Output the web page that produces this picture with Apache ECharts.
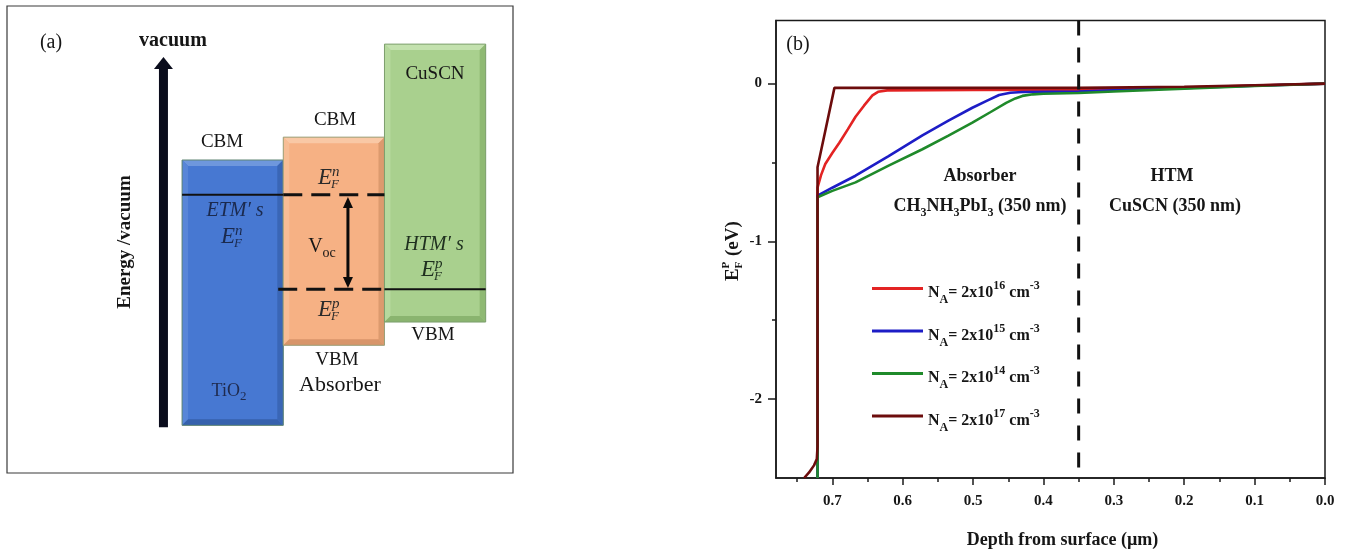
<!DOCTYPE html>
<html>
<head>
<meta charset="utf-8">
<title>Band diagram and hole quasi-Fermi level</title>
<script src="https://cdn.jsdelivr.net/npm/echarts@6.0.0/dist/echarts.min.js"></script>
<style>
  html, body { margin: 0; padding: 0; background: #fff; }
  #chart { width: 1349px; height: 554px; }
</style>
</head>
<body>
<div id="chart"></div>
<script>
// (a) schematic band levels (arbitrary energy units, 0 = TiO2 VBM)
const layers = ['TiO2', 'Absorber', 'CuSCN'];
const cbmLevels = [6.96, 7.56, 10.0];
const vbmLevels = [0, 2.1, 2.71];
const efnLevel = 6.05;
const efpLevel = 3.57;
const vacuumArrow = [[-0.184, -0.05, 9.66]];
const vocArrow = [[1.639, 3.6, 5.99]];

// (b) E_F^p (eV) vs depth from surface (um)
const depthTicks = [0, 0.1, 0.2, 0.3, 0.4, 0.5, 0.6, 0.7];
const depthMinorTicks = [0.05, 0.15, 0.25, 0.35, 0.45, 0.55, 0.65, 0.75];
const energyTicks = [-2, -1, 0];
const energyMinorTicks = [-1.5, -0.5];
const dopingExponents = ['16', '15', '14', '17'];
const interfaceDepth = 0.35;

const efNA16 = [[0.721, -2.5], [0.721, -0.66], [0.716, -0.58], [0.71, -0.51], [0.70, -0.44],
  [0.69, -0.375], [0.678, -0.29], [0.667, -0.21], [0.655, -0.14], [0.643, -0.075],
  [0.635, -0.052], [0.622, -0.043], [0.5, -0.04], [0.35, -0.038], [0.2, -0.025],
  [0.1, -0.012], [0, 0]];
const efNA15 = [[0.721, -2.5], [0.721, -0.71], [0.70, -0.66], [0.667, -0.584], [0.62, -0.46],
  [0.572, -0.328], [0.535, -0.235], [0.501, -0.153], [0.48, -0.108], [0.463, -0.072],
  [0.447, -0.058], [0.43, -0.053], [0.35, -0.05], [0.25, -0.035], [0.1, -0.014], [0, 0]];
const efNA14 = [[0.721, -2.5], [0.721, -0.72], [0.70, -0.68], [0.667, -0.626], [0.62, -0.52],
  [0.572, -0.416], [0.535, -0.33], [0.501, -0.248], [0.475, -0.18], [0.453, -0.122],
  [0.44, -0.094], [0.43, -0.078], [0.415, -0.068], [0.40, -0.064], [0.35, -0.06],
  [0.3, -0.05], [0.2, -0.032], [0.1, -0.015], [0, 0]];
const efNA17 = [[0.74, -2.5], [0.733, -2.465], [0.726, -2.42], [0.722, -2.38], [0.721, -2.3],
  [0.721, -0.53], [0.71, -0.3], [0.697, -0.027], [0.6, -0.027], [0.5, -0.027],
  [0.35, -0.027], [0.2, -0.02], [0.1, -0.01], [0, 0]];

const serif = '"Liberation Serif", "Times New Roman", serif';
const ink = '#161616';
const lineColors = ['#e32323', '#1d1dc6', '#1f8a2a', '#6c0c0c'];
const blockColors = [
  { main: '#4778d2', top: '#6e97dd', left: '#5886d8', right: '#3a66b6', bottom: '#3661ad', edge: '#5f8572' },
  { main: '#f6b184', top: '#f9c8a5', left: '#f7bd95', right: '#dc9a6e', bottom: '#d8956a', edge: '#9aa07a' },
  { main: '#a9d08e', top: '#c3e1ae', left: '#b6d99e', right: '#8fb973', bottom: '#8ab46f', edge: '#7d9f6e' }
];

function renderBlock(params, api) {
  const i = api.value(0);
  const p0 = api.coord([i, api.value(1)]);
  const p1 = api.coord([i + 1, api.value(2)]);
  const x0 = p0[0], y0 = p0[1], x1 = p1[0], y1 = p1[1], b = 6;
  const c = blockColors[params.dataIndex];
  return {
    type: 'group',
    children: [
      { type: 'rect', shape: { x: x0, y: y0, width: x1 - x0, height: y1 - y0 }, style: { fill: c.main } },
      { type: 'polygon', shape: { points: [[x0, y0], [x1, y0], [x1 - b, y0 + b], [x0 + b, y0 + b]] }, style: { fill: c.top } },
      { type: 'polygon', shape: { points: [[x0, y0], [x0 + b, y0 + b], [x0 + b, y1 - b], [x0, y1]] }, style: { fill: c.left } },
      { type: 'polygon', shape: { points: [[x1, y0], [x1, y1], [x1 - b, y1 - b], [x1 - b, y0 + b]] }, style: { fill: c.right } },
      { type: 'polygon', shape: { points: [[x0, y1], [x0 + b, y1 - b], [x1 - b, y1 - b], [x1, y1]] }, style: { fill: c.bottom } },
      { type: 'rect', shape: { x: x0, y: y0, width: x1 - x0, height: y1 - y0 }, style: { fill: 'none', stroke: c.edge, lineWidth: 1 } }
    ]
  };
}

// vertical arrow, value(1) = lower end, value(2) = upper end
function arrowRenderer(o) {
  return function (params, api) {
    const lo = api.coord([api.value(0), api.value(1)]);
    const hi = api.coord([api.value(0), api.value(2)]);
    const cx = lo[0], yb = lo[1], yt = hi[1];
    const children = [];
    const sTop = yt + o.headLen - 1;
    const sBot = o.both ? yb - o.headLen + 1 : yb;
    children.push({ type: 'rect', shape: { x: cx - o.shaft / 2, y: sTop, width: o.shaft, height: sBot - sTop }, style: { fill: o.color } });
    children.push({ type: 'polygon', shape: { points: [[cx, yt], [cx - o.headWidth / 2, yt + o.headLen], [cx + o.headWidth / 2, yt + o.headLen]] }, style: { fill: o.color } });
    if (o.both) {
      children.push({ type: 'polygon', shape: { points: [[cx, yb], [cx - o.headWidth / 2, yb - o.headLen], [cx + o.headWidth / 2, yb - o.headLen]] }, style: { fill: o.color } });
    }
    return { type: 'group', children };
  };
}

function label(x, y, text, size, extra) {
  return {
    type: 'text', x: x, y: y, z: 100, silent: true,
    style: Object.assign({ text: text, fontFamily: serif, fontSize: size, fill: ink, align: 'center', verticalAlign: 'middle' }, extra || {})
  };
}

// E with stacked super/subscript, as in E_F^n
function fermiLabel(x, y, sup, fill) {
  const base = { fontFamily: serif, fontStyle: 'italic', fill: fill, verticalAlign: 'middle' };
  return {
    type: 'group', x: x, y: y, silent: true,
    children: [
      { type: 'text', x: 0, y: 0, z: 100, style: Object.assign({ text: 'E', fontSize: 23, align: 'right' }, base) },
      { type: 'text', x: 0, y: -6, z: 100, style: Object.assign({ text: sup, fontSize: 15, align: 'left' }, base) },
      { type: 'text', x: -1, y: 7, z: 100, style: Object.assign({ text: 'F', fontSize: 13, align: 'left' }, base) }
    ]
  };
}

const subRich = { sub: { fontFamily: serif, fontSize: 14, lineHeight: 10, verticalAlign: 'bottom', fill: ink } };
const boldSubRich = { s: { fontFamily: serif, fontWeight: 'bold', fontSize: 12, lineHeight: 10, verticalAlign: 'bottom', fill: ink } };

const chart = echarts.init(document.getElementById('chart'));

const curveSeries = [efNA16, efNA15, efNA14, efNA17].map(function (data, k) {
  return {
    name: dopingExponents[k],
    type: 'line',
    xAxisIndex: 0,
    yAxisIndex: 0,
    data: data,
    symbol: 'none',
    showSymbol: false,
    z: 3,
    lineStyle: { color: lineColors[k], width: 2.6 },
    itemStyle: { color: lineColors[k] }
  };
});

function fermiLine(data, dashed) {
  return {
    type: 'line',
    xAxisIndex: 2,
    yAxisIndex: 2,
    data: data,
    symbol: 'none',
    silent: true,
    z: 5,
    lineStyle: { color: '#111', width: dashed ? 3 : 2, type: dashed ? [19, 9] : 'solid' }
  };
}

const option = {
  animation: false,
  backgroundColor: '#fff',
  grid: [
    { left: 776, top: 20.5, right: 24, bottom: 72.5, show: true, borderColor: '#1a1a1a', borderWidth: 1.5 },
    { left: 7, top: 6, width: 506, height: 467, show: true, borderColor: '#3a3a3a', borderWidth: 1.2 }
  ],
  legend: {
    data: dopingExponents,
    orient: 'vertical',
    left: 872,
    top: 271,
    padding: 0,
    itemWidth: 51,
    itemHeight: 3,
    itemGap: 7.5,
    icon: 'rect',
    selectedMode: false,
    formatter: function (name) {
      return 'N{sub|A}= 2x10{sup|' + name + '} cm{sup|-3}';
    },
    textStyle: {
      fontFamily: serif, fontWeight: 'bold', fontSize: 16, color: ink, lineHeight: 26, padding: [9, 0, 0, 0],
      rich: {
        sub: { fontFamily: serif, fontWeight: 'bold', fontSize: 12, lineHeight: 12, verticalAlign: 'bottom', color: ink },
        sup: { fontFamily: serif, fontWeight: 'bold', fontSize: 12, lineHeight: 12, verticalAlign: 'top', color: ink }
      }
    }
  },
  xAxis: [
    {
      gridIndex: 0, type: 'value', inverse: true, min: 0, max: 0.78,
      name: 'Depth from surface (\u00b5m)', nameLocation: 'middle', nameGap: 53,
      nameTextStyle: { fontFamily: serif, fontWeight: 'bold', fontSize: 18, color: ink, padding: [0, 0, 0, 24] },
      axisLine: { onZero: false, lineStyle: { color: '#1a1a1a', width: 1.5 } },
      axisTick: { customValues: depthTicks, length: 7, lineStyle: { color: '#1a1a1a', width: 1.5 } },
      axisLabel: {
        customValues: depthTicks, margin: 16,
        formatter: function (v) { return v.toFixed(1); },
        fontFamily: serif, fontWeight: 'bold', fontSize: 15, color: ink
      },
      splitLine: { show: false }
    },
    {
      gridIndex: 0, type: 'value', inverse: true, min: 0, max: 0.78, position: 'bottom',
      axisLine: { show: false, onZero: false },
      axisTick: { customValues: depthMinorTicks, length: 4, lineStyle: { color: '#1a1a1a', width: 1.5 } },
      axisLabel: { show: false },
      splitLine: { show: false }
    },
    { gridIndex: 1, type: 'value', min: -1.73, max: 3.27, show: false }
  ],
  yAxis: [
    {
      gridIndex: 0, type: 'value', min: -2.5, max: 0.4,
      axisLine: { onZero: false, lineStyle: { color: '#1a1a1a', width: 1.5 } },
      axisTick: { customValues: energyTicks, length: 8, lineStyle: { color: '#1a1a1a', width: 1.5 } },
      axisLabel: { customValues: energyTicks, margin: 14, fontFamily: serif, fontWeight: 'bold', fontSize: 15, color: ink },
      splitLine: { show: false }
    },
    {
      gridIndex: 0, type: 'value', min: -2.5, max: 0.4, position: 'left',
      axisLine: { show: false, onZero: false },
      axisTick: { customValues: energyMinorTicks, length: 4, lineStyle: { color: '#1a1a1a', width: 1.5 } },
      axisLabel: { show: false },
      splitLine: { show: false }
    },
    { gridIndex: 1, type: 'value', min: -1.25, max: 11, show: false }
  ],
  series: curveSeries.concat([
    {
      name: 'interface',
      type: 'line',
      xAxisIndex: 0,
      yAxisIndex: 0,
      data: [[interfaceDepth, 0.4], [interfaceDepth, -2.5]],
      symbol: 'none',
      silent: true,
      z: 4,
      lineStyle: { color: '#111', width: 3, type: [15, 12] }
    },
    {
      type: 'custom',
      xAxisIndex: 2,
      yAxisIndex: 2,
      data: layers.map(function (n, i) { return [i, cbmLevels[i], vbmLevels[i]]; }),
      encode: { x: 0, y: [1, 2] },
      renderItem: renderBlock,
      silent: true,
      z: 1
    },
    fermiLine([[0, efnLevel], [1, efnLevel]], false),
    fermiLine([[1, efnLevel], [2, efnLevel]], true),
    fermiLine([[0.95, efpLevel], [2, efpLevel]], true),
    fermiLine([[2, efpLevel], [3, efpLevel]], false),
    {
      type: 'custom', xAxisIndex: 2, yAxisIndex: 2, data: vacuumArrow, silent: true, z: 6,
      encode: { x: 0, y: [1, 2] },
      renderItem: arrowRenderer({ color: '#0a0c1c', shaft: 9, headWidth: 19, headLen: 12, both: false })
    },
    {
      type: 'custom', xAxisIndex: 2, yAxisIndex: 2, data: vocArrow, silent: true, z: 6,
      encode: { x: 0, y: [1, 2] },
      renderItem: arrowRenderer({ color: '#0a0a0a', shaft: 3, headWidth: 10, headLen: 11, both: true })
    }
  ]),
  graphic: [
    // panel (a) annotations
    label(51, 43, '(a)', 20),
    label(173, 41, 'vacuum', 20, { fontWeight: 'bold' }),
    {
      type: 'text', x: 125, y: 242, rotation: Math.PI / 2, z: 100, silent: true,
      style: { text: 'Energy /vacuum', fontFamily: serif, fontWeight: 'bold', fontSize: 19, fill: ink, align: 'center', verticalAlign: 'middle' }
    },
    label(222, 142, 'CBM', 19),
    label(335, 120, 'CBM', 19),
    label(435, 74, 'CuSCN', 19),
    fermiLabel(332, 178, 'n', '#2a2a2a'),
    label(235, 211, 'ETM\u2032 s', 20, { fontStyle: 'italic', fill: '#1b2a4e' }),
    fermiLabel(235, 237, 'n', '#1b2a4e'),
    label(322, 247, 'V{sub|oc}', 20, { lineHeight: 26, rich: subRich }),
    label(434, 245, 'HTM\u2032 s', 20, { fontStyle: 'italic', fill: '#1f301f' }),
    fermiLabel(435, 270, 'p', '#1f301f'),
    fermiLabel(332, 310, 'p', '#2a2a2a'),
    label(433, 335, 'VBM', 19),
    label(337, 360, 'VBM', 19),
    label(340, 385, 'Absorber', 22),
    label(229, 391, 'TiO{sub|2}', 18, { fill: '#1f2b4f', lineHeight: 24, rich: { sub: { fontFamily: serif, fontSize: 13, lineHeight: 10, verticalAlign: 'bottom', fill: '#1f2b4f' } } }),

    // panel (b) annotations
    label(798, 45, '(b)', 20),
    label(980, 176, 'Absorber', 18, { fontWeight: 'bold' }),
    label(980, 206, 'CH{s|3}NH{s|3}PbI{s|3} (350 nm)', 18, { fontWeight: 'bold', lineHeight: 26, rich: boldSubRich }),
    label(1172, 176, 'HTM', 18, { fontWeight: 'bold' }),
    label(1175, 206, 'CuSCN (350 nm)', 18, { fontWeight: 'bold' }),
    {
      type: 'group', x: 733, y: 251, rotation: Math.PI / 2, silent: true,
      children: [
        { type: 'text', x: -30, y: 0, z: 100, style: { text: 'E', fontFamily: serif, fontWeight: 'bold', fontSize: 19, fill: ink, align: 'left', verticalAlign: 'middle' } },
        { type: 'text', x: -17.5, y: -7, z: 100, style: { text: 'P', fontFamily: serif, fontWeight: 'bold', fontSize: 11, fill: ink, align: 'left', verticalAlign: 'middle' } },
        { type: 'text', x: -17.5, y: 6, z: 100, style: { text: 'F', fontFamily: serif, fontWeight: 'bold', fontSize: 11, fill: ink, align: 'left', verticalAlign: 'middle' } },
        { type: 'text', x: -5, y: 0, z: 100, style: { text: '(eV)', fontFamily: serif, fontWeight: 'bold', fontSize: 19, fill: ink, align: 'left', verticalAlign: 'middle' } }
      ]
    }
  ]
};

chart.setOption(option);
</script>
</body>
</html>
